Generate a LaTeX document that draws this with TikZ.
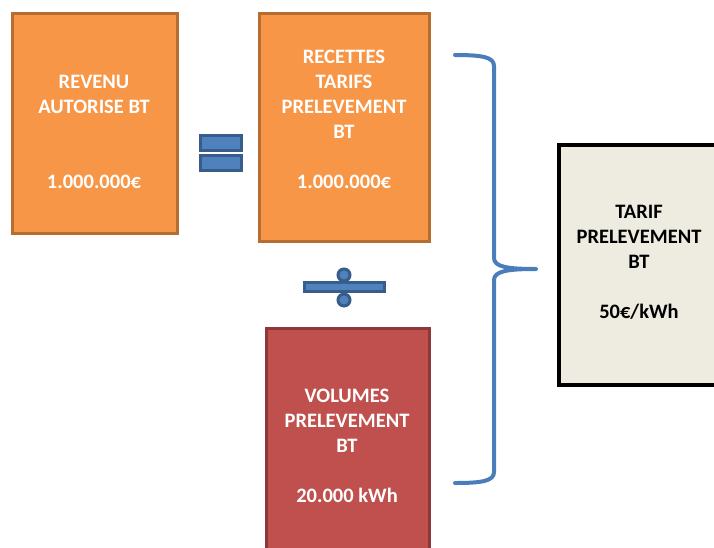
\documentclass[tikz,border=0pt]{standalone}
\usepackage{fontspec}
\setmainfont{Carlito}
\usepackage{tikz}

\definecolor{orangefill}{HTML}{F79646}
\definecolor{orangeline}{HTML}{B66D31}
\definecolor{redfill}{HTML}{C0504D}
\definecolor{redline}{HTML}{8C3836}
\definecolor{tariffill}{HTML}{EEECE1}
\definecolor{signfill}{HTML}{4F81BD}
\definecolor{signline}{HTML}{385D8A}
\definecolor{bracecol}{HTML}{4A7EBB}

\begin{document}
\begin{tikzpicture}[x=1pt,y=-1pt,
    box/.style={draw,line width=3pt,inner sep=0pt},
    boxtext/.style={align=center,font=\fontsize{20.5}{25}\selectfont\bfseries},
    sign/.style={draw=signline,fill=signfill,line width=3pt,inner sep=0pt}]
    \clip (0,0) rectangle (714,547);

    % Revenu autorise
    \node[box,draw=orangeline,fill=orangefill,minimum width=165pt,minimum height=220pt] (revenu) at (95,123.5) {};
    \node[boxtext,text=white] (revenu-t) at (94,131.5) {REVENU\\AUTORISE BT\\[50pt]1.000.000€};

    % Recettes
    \node[box,draw=orangeline,fill=orangefill,minimum width=170pt,minimum height=228pt] (recettes) at (344.5,127.5) {};
    \node[boxtext,text=white] (recettes-t) at (344,119.5) {RECETTES\\TARIFS\\PRELEVEMENT\\BT\\[25pt]1.000.000€};

    % Volumes
    \node[box,draw=redline,fill=redfill,minimum width=163pt,minimum height=241pt] (volumes) at (348,449) {};
    \node[boxtext,text=white] (volumes-t) at (347,446) {VOLUMES\\PRELEVEMENT\\BT\\[25pt]20.000 kWh};

    % Tarif
    \node[box,draw=black,line width=4pt,fill=tariffill,minimum width=172pt,minimum height=240pt] (tarif) at (645,265) {};
    \node[boxtext,text=black] (tarif-t) at (639,262.5) {TARIF\\PRELEVEMENT\\BT\\[25pt]50€/kWh};

    % Egal
    \node[sign,minimum width=41pt,minimum height=15pt] (egal-haut) at (221,143) {};
    \node[sign,minimum width=41pt,minimum height=15pt] (egal-bas) at (221,163) {};

    % Division
    \node[sign,circle,minimum size=12pt] (div-haut) at (344,275) {};
    \node[sign,circle,minimum size=12pt] (div-bas) at (344,300) {};
    \node[sign,minimum width=80pt,minimum height=9pt] (div-barre) at (344.5,287) {};

    % Accolade
    \coordinate (acc-haut) at (455,55);
    \coordinate (acc-pointe) at (536,269);
    \coordinate (acc-bas) at (455,483);
    \draw[bracecol,line width=4pt,line cap=round,line join=round]
        (acc-haut) .. controls (482,55) and (494,57) .. (494,66) -- (494,258)
        .. controls (494,267) and (508,269) .. (acc-pointe)
        .. controls (508,269) and (494,271) .. (494,280) -- (494,472)
        .. controls (494,481) and (482,483) .. (acc-bas);

\end{tikzpicture}
\end{document}
